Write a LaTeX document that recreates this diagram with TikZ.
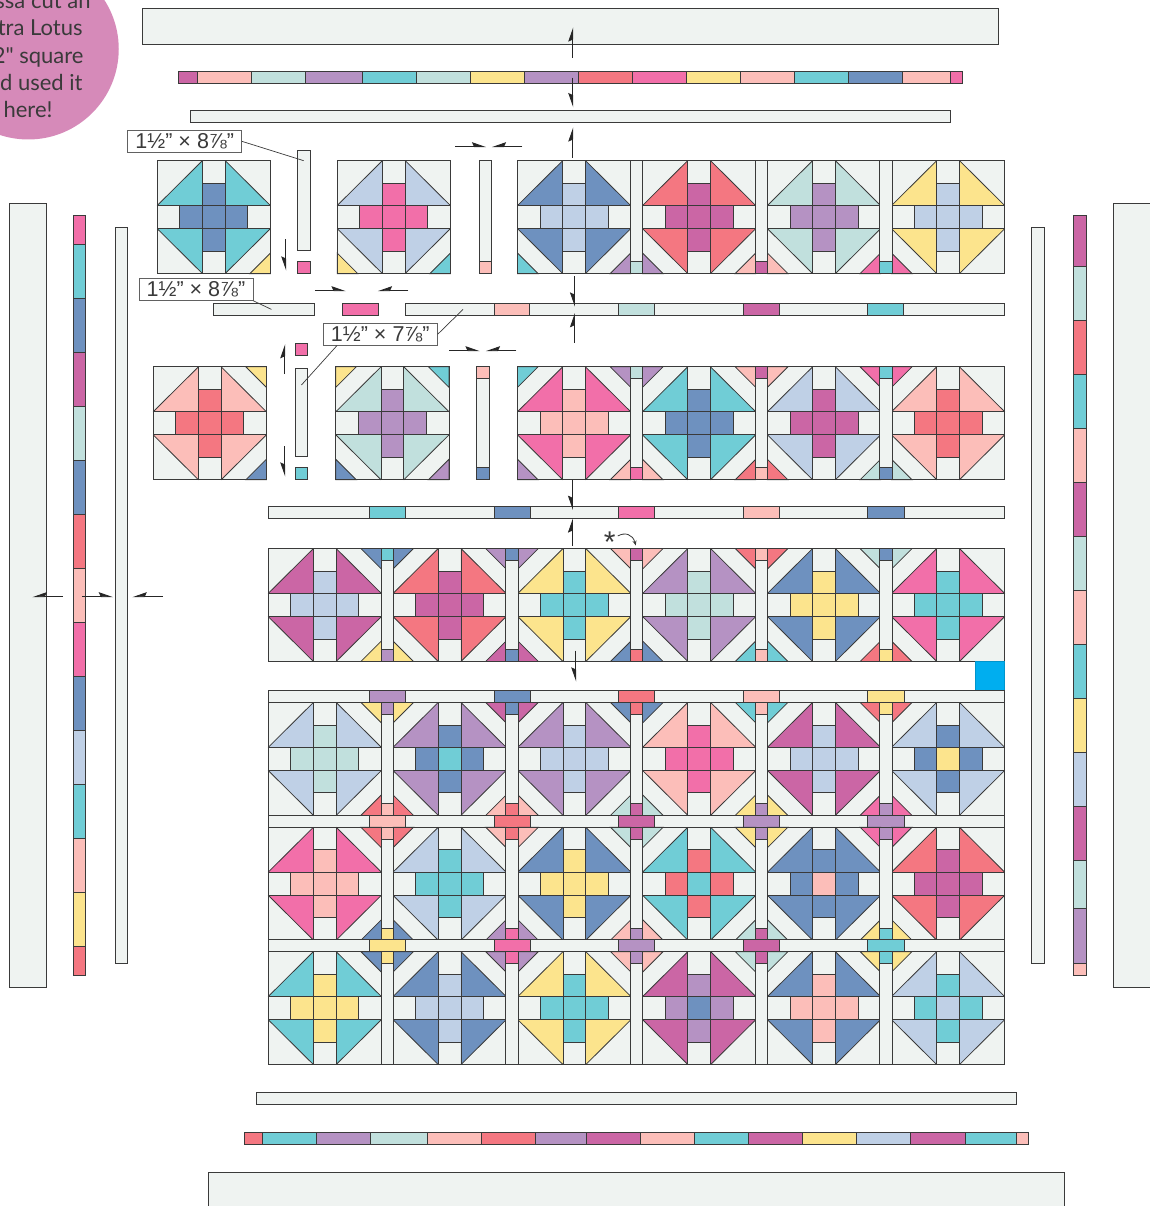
\documentclass[tikz,border=0pt]{standalone}
\usepackage{fontspec}
\usetikzlibrary{arrows.meta}
\setmainfont{Liberation Sans}
\newfontfamily\notefont{Lato}

\definecolor{bgc}{HTML}{EFF3F1}
\definecolor{lin}{HTML}{3A3A3A}
\definecolor{teal}{HTML}{70CDD6}
\definecolor{blu}{HTML}{6E91BF}
\definecolor{lbl}{HTML}{BFD0E6}
\definecolor{pnk}{HTML}{F26FA9}
\definecolor{mag}{HTML}{CB66A5}
\definecolor{pur}{HTML}{B592C3}
\definecolor{ltl}{HTML}{C1E0DD}
\definecolor{cor}{HTML}{F47781}
\definecolor{lpk}{HTML}{FCBEB9}
\definecolor{yel}{HTML}{FCE48D}
\definecolor{cyn}{HTML}{00AEEF}
\definecolor{circ}{HTML}{D68AB9}

\tikzset{
  patch/.style={draw=lin,line width=0.8pt,line join=miter},
  sizetag/.style={draw=lin!80,line width=0.8pt,fill=white,inner sep=0pt,minimum width=114pt,minimum height=22.4pt,font=\fontsize{21.5}{21.5}\selectfont,text=lin},
  leader/.style={draw=lin,line width=0.7pt},
  pressleft/.style={draw=black!85,line width=0.9pt,-{Stealth[length=13pt,width=9pt,inset=2pt,harpoon]}},
  pressright/.style={draw=black!85,line width=0.9pt,-{Stealth[length=13pt,width=9pt,inset=2pt,harpoon,swap]}},
  notetext/.style={anchor=base east,inner sep=0pt,text=lin,font=\notefont\fontsize{22}{22}\selectfont}
}

\def\qnone{none}
% x, y, triangles, cross, middle, then corners TL TR BL BR
\newcommand{\qblock}[9]{
  \begin{scope}[shift={(#1,#2)}]
    \fill[bgc] (0,0) rectangle (113.3,113);
    \fill[#3] (0,45) -- (45.3,0) -- (45.3,45) -- cycle;
    \fill[#3] (68,45) -- (68,0) -- (113.3,45) -- cycle;
    \fill[#3] (0,68) -- (45.3,113) -- (45.3,68) -- cycle;
    \fill[#3] (68,68) -- (68,113) -- (113.3,68) -- cycle;
    \fill[#4] (45.3,22.6) rectangle (68,90.4);
    \fill[#4] (22.6,45) rectangle (90.7,68);
    \fill[#5] (45.3,45) rectangle (68,68);
    \edef\qtmp{#6}\ifx\qtmp\qnone\else\draw[patch,fill=#6] (0,0) -- (20.6,0) -- (0,20.6) -- cycle;\fi
    \edef\qtmp{#7}\ifx\qtmp\qnone\else\draw[patch,fill=#7] (113.3,0) -- (92.7,0) -- (113.3,20.6) -- cycle;\fi
    \edef\qtmp{#8}\ifx\qtmp\qnone\else\draw[patch,fill=#8] (0,113) -- (20.6,113) -- (0,92.4) -- cycle;\fi
    \edef\qtmp{#9}\ifx\qtmp\qnone\else\draw[patch,fill=#9] (113.3,113) -- (92.7,113) -- (113.3,92.4) -- cycle;\fi
    \draw[patch] (0,45) -- (45.3,0) (68,0) -- (113.3,45) (0,68) -- (45.3,113) (68,113) -- (113.3,68);
    \draw[patch] (0,45) -- (113.3,45) (0,68) -- (113.3,68) (45.3,0) -- (45.3,113) (68,0) -- (68,113);
    \draw[patch] (22.6,45) -- (22.6,68) (90.7,45) -- (90.7,68) (45.3,22.6) -- (68,22.6) (45.3,90.4) -- (68,90.4);
    \draw[patch] (0,0) rectangle (113.3,113);
  \end{scope}
}
% x, y, top square, bottom square
\newcommand{\qsash}[4]{
  \draw[patch,fill=bgc] (#1,#2) rectangle ++(12.2,113);
  \edef\qtmp{#3}\ifx\qtmp\qnone\else\draw[patch,fill=#3] (#1,#2) rectangle ++(12.2,12);\fi
  \edef\qtmp{#4}\ifx\qtmp\qnone\else\draw[patch,fill=#4] (#1,#2+101) rectangle ++(12.2,12);\fi
}
% y, then the five coloured pieces of a long sashing strip
\newcommand{\qstrip}[6]{
  \draw[patch,fill=bgc] (268.4,#1) rectangle (1005,#1+12);
  \draw[patch,fill=#2] (369.4,#1) rectangle ++(36.2,12);
  \draw[patch,fill=#3] (494.2,#1) rectangle ++(36.2,12);
  \draw[patch,fill=#4] (618.8,#1) rectangle ++(36.2,12);
  \draw[patch,fill=#5] (743.6,#1) rectangle ++(36.2,12);
  \draw[patch,fill=#6] (868,#1) rectangle ++(36.2,12);
}
% y1, y2, then start/end/colour pieces
\newcommand{\hpieced}[3]{
  \foreach \sa/\sb/\sc in {#3} {\draw[patch,fill=\sc] (\sa,#1) rectangle (\sb,#2);}
}
\newcommand{\vpieced}[3]{
  \foreach \sa/\sb/\sc in {#3} {\draw[patch,fill=\sc] (#1,\sa) rectangle (#2,\sb);}
}

\begin{document}
\begin{tikzpicture}[x=1pt,y=-1pt]
  \useasboundingbox (0.25,0) rectangle (1149.25,1206);

  % note
  \fill[circ] (28.5,49) circle (90.5);
  \node[notetext] (note1) at (91,9) {ssa cut an};
  \node[notetext] (note2) at (83,36) {tra Lotus};
  \node[notetext] (note3) at (84,64) {2" square};
  \node[notetext] (note4) at (83,91) {d used it};
  \node[notetext] (note5) at (53,118) {here!};

  % top borders
  \draw[patch,fill=bgc] (143,8.5) rectangle (999,44.3);
  \hpieced{71}{83}{179/197.3/mag,197.3/251.3/lpk,251.3/305.3/ltl,305.3/362.3/pur,362.3/416.3/teal,416.3/470.3/ltl,470.3/524.5/yel,524.5/578.5/pur,578.5/632.5/cor,632.5/686.5/pnk,686.5/740.5/yel,740.5/794.5/lpk,794.5/848.5/teal,848.5/902.5/blu,902.5/951/lpk,951/963/pnk}
  \draw[patch,fill=bgc] (191,110.3) rectangle (951,122.3);

  % left borders
  \draw[patch,fill=bgc] (10,203) rectangle (46.3,987);
  \vpieced{73.4}{85.7}{215/244/pnk,244/298/teal,298/352/blu,352/406/mag,406/460/ltl,460/514/blu,514/568/cor,568/622/lpk,622/676/pnk,676/730/blu,730/784/lbl,784/838/teal,838/892/lpk,892/946/yel,946/975/cor}
  \draw[patch,fill=bgc] (115.4,227) rectangle (128,963);

  % right borders
  \draw[patch,fill=bgc] (1032,227) rectangle (1044.4,963);
  \vpieced{1074}{1086.4}{215/266/mag,266/320/ltl,320/374/cor,374/428/teal,428/482/lpk,482/536/mag,536/590/ltl,590/644/lpk,644/698/teal,698/752/yel,752/806/lbl,806/860/mag,860/908/ltl,908/963/pur,963/975/lpk}
  \draw[patch,fill=bgc] (1114,203) rectangle (1160,987);

  % bottom borders
  \draw[patch,fill=bgc] (257,1092) rectangle (1017,1104);
  \hpieced{1132}{1144}{245/263/cor,263/317/teal,317/371/pur,371/428/ltl,428/482/lpk,482/536/cor,536/587/pur,587/641/mag,641/695/lpk,695/749/teal,749/803/mag,803/857/yel,857/911/lbl,911/966/mag,966/1017/teal,1017/1029/lpk}
  \draw[patch,fill=bgc] (209,1172) rectangle (1065,1220);

  % first row
  \qblock{157.4}{160.6}{teal}{blu}{blu}{none}{none}{none}{yel}
  \draw[patch,fill=bgc] (298,150.3) rectangle (310.5,250.7);
  \draw[patch,fill=pnk] (298,261.4) rectangle (310.5,273.6);
  \qblock{337.4}{160.6}{lbl}{pnk}{pnk}{none}{none}{yel}{teal}
  \qsash{479.4}{160.6}{none}{lpk}
  \foreach \bx/\triC/\crossC/\cBL/\cBR in {517.7/blu/lbl/teal/pur,642.7/cor/mag/pur/lpk,767.6/ltl/pur/lpk/pnk,891.7/yel/lbl/pnk/none}
    {\qblock{\bx}{160.6}{\triC}{\crossC}{\crossC}{none}{none}{\cBL}{\cBR}}
  \foreach \sx/\cB in {630.5/ltl,755.4/mag,880/teal}
    {\qsash{\sx}{160.6}{none}{\cB}}

  % strip below first row
  \draw[patch,fill=bgc] (214,303.4) rectangle (314.7,315.4);
  \draw[patch,fill=pnk] (342.7,303.4) rectangle (378.7,315.4);
  \draw[patch,fill=bgc] (405.3,303.4) rectangle (1005,315.4);
  \hpieced{303.4}{315.4}{494.3/530/lpk,618.8/655/ltl,743.6/780/mag,868/904/teal}

  % second row
  \qblock{153.4}{366.8}{lpk}{cor}{cor}{none}{yel}{none}{blu}
  \draw[patch,fill=pnk] (295.7,343.3) rectangle (307.9,355.6);
  \draw[patch,fill=bgc] (295.7,368.3) rectangle (307.9,456.7);
  \draw[patch,fill=teal] (295.7,467.4) rectangle (307.9,479.8);
  \qblock{336}{366.8}{ltl}{pur}{pur}{yel}{teal}{blu}{pur}
  \qsash{477.1}{366.8}{lpk}{blu}
  \foreach \bx/\triC/\crossC/\cTL/\cTR/\cBL/\cBR in {517.7/pnk/lpk/teal/pur/pur/lpk,642.7/teal/blu/pur/lpk/lpk/cor,767.6/lbl/mag/lpk/pnk/cor/ltl,891.7/lpk/cor/pnk/none/ltl/none}
    {\qblock{\bx}{366.8}{\triC}{\crossC}{\crossC}{\cTL}{\cTR}{\cBL}{\cBR}}
  \foreach \sx/\cT/\cB in {630.5/ltl/pnk,755.4/mag/lpk,880/teal/blu}
    {\qsash{\sx}{366.8}{\cT}{\cB}}

  \qstrip{506.7}{teal}{blu}{pnk}{lpk}{blu}

  % third row
  \foreach \bx/\triC/\crossC/\cTL/\cTR/\cBL/\cBR in {268.4/mag/lbl/none/blu/none/yel,393.2/cor/mag/blu/pur/yel/mag,518/yel/teal/pur/lpk/mag/blu,642.8/pur/ltl/lpk/cor/blu/teal,767.6/blu/yel/cor/ltl/teal/cor,891.7/pnk/teal/ltl/none/cor/none}
    {\qblock{\bx}{548.5}{\triC}{\crossC}{\crossC}{\cTL}{\cTR}{\cBL}{\cBR}}
  \foreach \sx/\cT/\cB in {381.6/teal/pur,506/blu/blu,630.8/mag/cor,755.6/lpk/lpk,880/blu/yel}
    {\qsash{\sx}{548.5}{\cT}{\cB}}

  \draw[patch,draw=cyn!85!black,fill=cyn] (975.7,661.6) rectangle (1005,690.2);
  \qstrip{690.2}{pur}{blu}{cor}{lpk}{yel}

  % fourth row
  \foreach \bx/\triC/\crossC/\midC/\cTL/\cTR/\cBL/\cBR in {268.4/lbl/ltl/ltl/none/yel/none/cor,393.2/pur/blu/teal/yel/mag/cor/lpk,518/pur/lbl/lbl/mag/blu/lpk/ltl,642.8/lpk/pnk/pnk/blu/teal/ltl/yel,767.6/mag/lbl/lbl/teal/cor/yel/pnk,891.7/lbl/blu/yel/cor/none/pnk/none}
    {\qblock{\bx}{702.4}{\triC}{\crossC}{\midC}{\cTL}{\cTR}{\cBL}{\cBR}}
  \foreach \sx/\cT/\cB in {381.6/pur/lpk,506/blu/cor,630.8/cor/mag,755.6/lpk/pur,880/yel/pur}
    {\qsash{\sx}{702.4}{\cT}{\cB}}

  \qstrip{815.2}{lpk}{cor}{mag}{pur}{pur}

  % fifth row
  \foreach \bx/\triC/\crossC/\midC/\cTL/\cTR/\cBL/\cBR in {268.4/pnk/lpk/lpk/none/cor/none/blu,393.2/lbl/teal/teal/cor/lpk/blu/pur,518/blu/yel/yel/lpk/ltl/pur/lpk,642.8/teal/cor/teal/ltl/yel/lpk/ltl,767.6/blu/blu/lpk/yel/pnk/ltl/yel,891.7/cor/mag/mag/pnk/none/yel/none}
    {\qblock{\bx}{827.2}{\triC}{\crossC}{\midC}{\cTL}{\cTR}{\cBL}{\cBR}}
  \foreach \sx/\cT/\cB in {381.6/lpk/yel,506/cor/pnk,630.8/mag/pur,755.6/pur/mag,880/pur/teal}
    {\qsash{\sx}{827.2}{\cT}{\cB}}

  \qstrip{939.8}{yel}{pnk}{pur}{mag}{teal}

  % sixth row
  \foreach \bx/\triC/\crossC/\midC/\cTL/\cTR in {268.4/teal/yel/yel/none/blu,393.2/blu/lbl/lbl/blu/pur,518/yel/teal/teal/pur/lpk,642.8/mag/pur/blu/lpk/ltl,767.6/blu/lpk/lpk/ltl/yel,891.7/lbl/teal/lbl/yel/none}
    {\qblock{\bx}{951.6}{\triC}{\crossC}{\midC}{\cTL}{\cTR}{none}{none}}
  \foreach \sx/\cT in {381.6/yel,506/pnk,630.8/pur,755.6/mag,880/teal}
    {\qsash{\sx}{951.6}{\cT}{none}}

  % size labels
  \node[sizetag] (tagA) at (185,141.4) {1½"\hspace{6pt}×\hspace{6pt}8⅞"};
  \node[sizetag] (tagB) at (196.2,289.2) {1½"\hspace{6pt}×\hspace{6pt}8⅞"};
  \node[sizetag] (tagC) at (380.5,334.3) {1½"\hspace{6pt}×\hspace{6pt}7⅞"};
  \coordinate (endA) at (304,160.7);
  \coordinate (endB) at (271.7,309.4);
  \coordinate (endC) at (463.3,309.4);
  \coordinate (startD) at (337.3,345.5);
  \coordinate (endD) at (301.7,385);
  \draw[leader] (tagA.east) -- (endA);
  \draw[leader] (tagB.south east) -- (endB);
  \draw[leader] (tagC.east) -- (endC);
  \draw[leader] (startD) -- (endD);

  % pressing arrows
  \draw[pressleft] (573,57.7) -- (573,27.3);
  \draw[pressright] (573,77.7) -- (573,107.3);
  \draw[pressleft] (573,157.7) -- (573,127.3);
  \draw[pressleft] (455.7,146.7) -- (486.5,146.7);
  \draw[pressright] (522.7,146.7) -- (492,146.7);
  \draw[pressright] (286,239.3) -- (286,270.7);
  \draw[pressleft] (315,290.7) -- (346,290.7);
  \draw[pressright] (408.7,290.7) -- (378,290.7);
  \draw[pressright] (574.7,276) -- (574.7,306.7);
  \draw[pressleft] (574.7,342.5) -- (574.7,313);
  \draw[pressleft] (285,374) -- (285,344);
  \draw[pressright] (285,446) -- (285,476.7);
  \draw[pressleft] (449.3,350.7) -- (480,350.7);
  \draw[pressright] (516.7,350.7) -- (486,350.7);
  \draw[pressright] (572.7,479.5) -- (572.7,510);
  \draw[pressleft] (572.7,546) -- (572.7,518.3);
  \draw[pressright] (576,650.7) -- (576,681.7);
  \draw[pressright] (63.3,596.7) -- (32.7,596.7);
  \draw[pressleft] (82.7,596.7) -- (113.3,596.7);
  \draw[pressright] (163.3,596.7) -- (132.7,596.7);

  % trim note
  \node[inner sep=0pt,text=lin,font=\fontsize{30}{30}\selectfont] (star) at (610,542.5) {*};
  \coordinate (turnA) at (618,536);
  \coordinate (turnB) at (636,545.5);
  \draw[draw=lin,line width=0.8pt,-{Stealth[length=5pt,width=4pt]}] (turnA) .. controls (625,532) and (633,534) .. (turnB);
\end{tikzpicture}
\end{document}
